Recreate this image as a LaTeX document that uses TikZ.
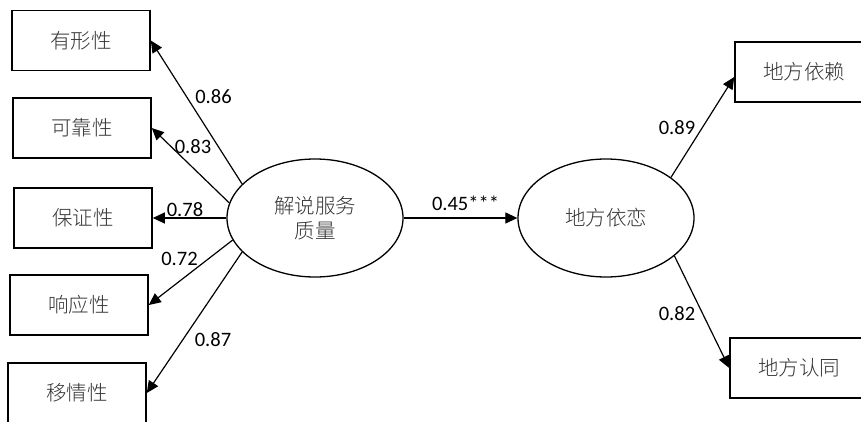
\documentclass[tikz,border=0pt]{standalone}
\usepackage{fontspec}
\setmainfont{Carlito}
\newfontfamily\cjk{Noto Sans CJK SC Light}
\usetikzlibrary{arrows.meta,shapes.geometric,calc}

\begin{document}
\begin{tikzpicture}[x=1pt,y=-1pt,
  box/.style={draw,line width=1.6pt,minimum width=138pt,minimum height=60pt,inner sep=0pt,
    font=\cjk\fontsize{20.5}{25}\selectfont,text=black!80},
  latent/.style={draw,ellipse,line width=1.3pt,minimum width=176pt,minimum height=118pt,inner sep=0pt,
    align=center,font=\cjk\fontsize{20.5}{25}\selectfont,text=black!80},
  pathline/.style={line width=1.2pt,-{Triangle[length=12pt,width=11pt]}},
  coef/.style={font=\fontsize{20.5}{24}\selectfont,inner sep=0pt}
]
\useasboundingbox (0,0) rectangle (861,422);
\clip (0,0) rectangle (861,422);

% observed indicators (left)
\node[box] (b1) at (81,40.5) {有形性};
\node[box] (b2) at (82,128) {可靠性};
\node[box] (b3) at (83,218) {保证性};
\node[box] (b4) at (79,305) {响应性};
\node[box] (b5) at (77,393) {移情性};

% latent variables
\node[latent] (e1) at (315,218) {解说服务\\质量};
\node[latent] (e2) at (606,218) {地方依恋};

% observed indicators (right)
\node[box] (r1) at (804,72) {地方依赖};
\node[box] (r2) at (799,368) {地方认同};

% connectors
\draw[pathline] (e1.155) -- (b1.east);
\draw[pathline] (e1.170) -- (b2.east);
\draw[pathline] (e1.west) -- (b3.east);
\draw[pathline] (e1.195) -- (b4.east);
\draw[pathline] (e1.205) -- (b5.east);
\draw[pathline] (e1.east) -- (e2.west);
\draw[pathline] (e2.32) -- ($(r1.west)+(0,5)$);
\draw[pathline] (e2.-29) -- (r2.west);

% coefficients
\node[coef] (l1) at (213.5,97) {0.86};
\node[coef] (l2) at (193,146.5) {0.83};
\node[coef] (l3) at (185,210) {0.78};
\node[coef] (l4) at (179.5,259) {0.72};
\node[coef] (l5) at (213,340) {0.87};
\node[coef] (l6) at (465.5,203) {0.45***};
\node[coef] (l7) at (677,128) {0.89};
\node[coef] (l8) at (677,313.5) {0.82};
\end{tikzpicture}
\end{document}
